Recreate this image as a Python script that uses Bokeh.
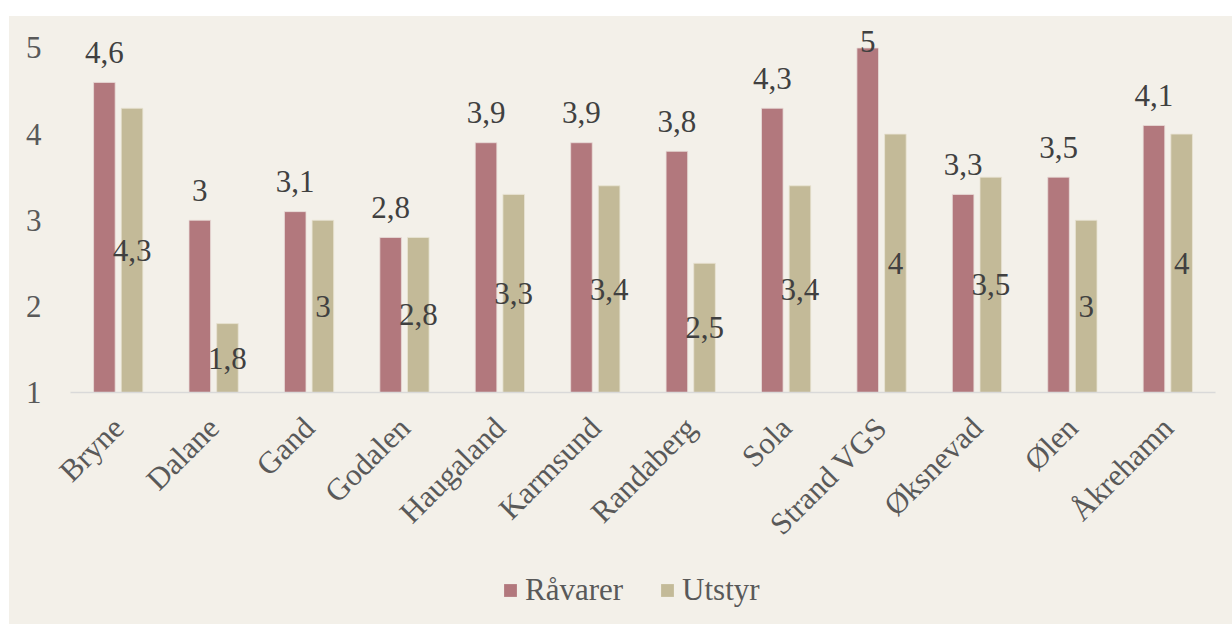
from bokeh.plotting import figure
from bokeh.layouts import column
from bokeh.models import ColumnDataSource, FactorRange, Range1d, FixedTicker, Legend, LegendItem
from bokeh.transform import dodge
from bokeh.core.properties import value
from bokeh.embed import file_html
from bokeh.resources import INLINE
import math

categories = ["Bryne", "Dalane", "Gand", "Godalen", "Haugaland", "Karmsund",
              "Randaberg", "Sola", "Strand VGS", "Øksnevad", "Ølen", "Åkrehamn"]
raavarer = [4.6, 3, 3.1, 2.8, 3.9, 3.9, 3.8, 4.3, 5, 3.3, 3.5, 4.1]
utstyr = [4.3, 1.8, 3, 2.8, 3.3, 3.4, 2.5, 3.4, 4, 3.5, 3, 4]
series_names = ["Råvarer", "Utstyr"]
y_ticks = [1, 2, 3, 4, 5]

BG = "#F3F0E9"
C1 = "#B2787D"
C2 = "#C3BA98"
FONT = "Liberation Serif"
FS = "31px"

def fmt(v):
    s = ("%g" % v)
    return s.replace(".", ",")

base = 1.0
src = ColumnDataSource(dict(
    cat=categories,
    r=raavarer,
    u=utstyr,
    bottom=[base] * len(categories),
    r_lab=[fmt(v) for v in raavarer],
    u_lab=[fmt(v) for v in utstyr],
    r_lab_y=[min(v + 0.35, 5.08) for v in raavarer],
    u_lab_y=[(v + base) / 2 for v in utstyr],
))

p = figure(x_range=FactorRange(*categories), y_range=Range1d(1, 5.296),
           width=1223, height=544, output_backend="svg", toolbar_location=None,
           min_border_left=61, min_border_right=17, min_border_top=6, min_border_bottom=168)
p.background_fill_color = BG
p.border_fill_color = BG
p.outline_line_color = None
p.grid.grid_line_color = None
p.x_range.range_padding = 0
p.x_range.group_padding = 0

off = 0.145
w = 0.226
r1 = p.vbar(x=dodge("cat", -off, range=p.x_range), top="r", bottom="bottom", width=w,
            source=src, fill_color=C1, line_color="#E8DCD8", line_width=0.8)
r2 = p.vbar(x=dodge("cat", off, range=p.x_range), top="u", bottom="bottom", width=w,
            source=src, fill_color=C2, line_color="#E8E3D3", line_width=0.8)

p.text(x=dodge("cat", -off, range=p.x_range), y="r_lab_y", text="r_lab", source=src,
       text_font=value(FONT), text_font_size=FS, text_color="#404040",
       text_align="center", text_baseline="alphabetic")
p.text(x=dodge("cat", off, range=p.x_range), y="u_lab_y", text="u_lab", source=src,
       text_font=value(FONT), text_font_size=FS, text_color="#404040",
       text_align="center", text_baseline="middle")

# axes
p.yaxis.ticker = FixedTicker(ticks=y_ticks)
p.yaxis.axis_line_color = None
p.yaxis.major_tick_line_color = None
p.yaxis.minor_tick_line_color = None
p.yaxis.major_label_standoff = 23
p.yaxis.major_label_text_font = FONT
p.yaxis.major_label_text_font_size = FS
p.yaxis.major_label_text_color = "#595959"

p.xaxis.axis_line_color = "#D9D9D9"
p.xaxis.axis_line_width = 1.5
p.xaxis.major_tick_line_color = None
p.xaxis.minor_tick_line_color = None
p.xaxis.major_label_orientation = math.pi / 4
p.xaxis.major_label_standoff = 24
p.xaxis.major_label_text_font = FONT
p.xaxis.major_label_text_font_size = FS
p.xaxis.major_label_text_color = "#595959"

# legend strip below the chart
p2 = figure(x_range=Range1d(0, 1), y_range=Range1d(0, 1), width=1223, height=64,
            output_backend="svg", toolbar_location=None,
            min_border_left=0, min_border_right=0, min_border_top=0, min_border_bottom=0)
p2.axis.visible = False
p2.grid.grid_line_color = None
p2.background_fill_alpha = 0
p2.border_fill_color = BG
p2.outline_line_color = None
# zero-size legend proxies, placed outside the visible range
proxy = ColumnDataSource(dict(x=[-5], top=[-5], bottom=[-5]))
l1 = p2.vbar(x="x", top="top", bottom="bottom", width=0.01, source=proxy, fill_color=C1, line_color=None)
l2 = p2.vbar(x="x", top="top", bottom="bottom", width=0.01, source=proxy, fill_color=C2, line_color=None)
legend = Legend(items=[LegendItem(label=series_names[0], renderers=[l1]),
                       LegendItem(label=series_names[1], renderers=[l2])],
                orientation="horizontal", location=(432, 16),
                label_text_font=FONT, label_text_font_size=FS, label_text_color="#595959",
                glyph_width=16, glyph_height=16, label_standoff=7, spacing=36,
                background_fill_alpha=0, border_line_color=None, margin=0, padding=0)
p2.add_layout(legend, "center")

layout = column(p, p2, spacing=0, margin=(16, 0, 0, 9), styles={"background-color": BG})
open("out.html", "w").write(file_html(layout, INLINE))
